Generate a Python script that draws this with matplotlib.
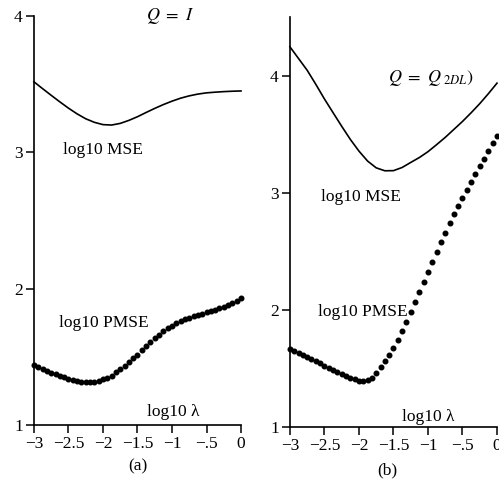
import numpy as np
from matplotlib import pyplot as plt

# log10 lambda grids
x_mse = np.arange(-3, 0.001, 0.125)
x_pmse = np.arange(-3, 0.001, 0.0625)

# panel (a): Q = I
mse_a = [3.517, 3.467, 3.418, 3.370, 3.324, 3.282, 3.246, 3.220, 3.203,
         3.200, 3.212, 3.234, 3.261, 3.292, 3.322, 3.350, 3.375, 3.397,
         3.414, 3.427, 3.436, 3.441, 3.445, 3.448, 3.450]
pmse_a = [1.441, 1.426, 1.412, 1.399, 1.385, 1.372, 1.360, 1.349, 1.340,
          1.332, 1.325, 1.319, 1.315, 1.314, 1.315, 1.322, 1.334, 1.345,
          1.362, 1.386, 1.408, 1.432, 1.460, 1.488, 1.517, 1.548, 1.578,
          1.606, 1.635, 1.662, 1.686, 1.708, 1.728, 1.745, 1.760, 1.775,
          1.787, 1.797, 1.807, 1.817, 1.826, 1.835, 1.845, 1.856, 1.868,
          1.880, 1.894, 1.910, 1.928]

# panel (b): Q = Q_2DL
mse_b = [4.245, 4.145, 4.045, 3.925, 3.800, 3.683, 3.567, 3.455, 3.355,
         3.270, 3.212, 3.187, 3.188, 3.215, 3.258, 3.300, 3.350, 3.410,
         3.472, 3.540, 3.608, 3.682, 3.760, 3.845, 3.935]
pmse_b = [1.667, 1.650, 1.632, 1.614, 1.596, 1.578, 1.560, 1.542, 1.524,
          1.506, 1.489, 1.471, 1.454, 1.437, 1.421, 1.407, 1.396, 1.392,
          1.398, 1.418, 1.460, 1.512, 1.560, 1.614, 1.675, 1.745, 1.822,
          1.900, 1.985, 2.070, 2.155, 2.240, 2.325, 2.410, 2.495, 2.580,
          2.660, 2.740, 2.815, 2.885, 2.955, 3.025, 3.095, 3.160, 3.225,
          3.290, 3.355, 3.420, 3.485]

xticks = [-3, -2.5, -2, -1.5, -1, -0.5, 0]
xtick_labels = ['\u22123', '\u22122.5', '\u22122', '\u22121.5', '\u22121', '\u2212.5', '0']
yticks = [1, 2, 3, 4]

plt.rcParams['font.family'] = ['Liberation Serif', 'DejaVu Serif']
plt.rcParams['mathtext.fontset'] = 'stix'

fig = plt.figure(figsize=(4.99, 4.79), dpi=100)
ax_a = fig.add_axes([0.068, 0.1127, 0.415, 0.854])
ax_b = fig.add_axes([0.581, 0.1086, 0.415, 0.856])


def style_axis(ax, ytop):
    ax.set_xlim(-3, 0)
    ax.set_ylim(1, ytop)
    ax.spines['top'].set_visible(False)
    ax.spines['right'].set_visible(False)
    ax.spines['left'].set_linewidth(1.2)
    ax.spines['bottom'].set_linewidth(1.2)
    ax.set_xticks(xticks)
    ax.set_xticklabels(xtick_labels)
    ax.set_yticks(yticks)
    ax.tick_params(direction='out', length=6, width=1.1, labelsize=12.5, pad=2)


style_axis(ax_a, 4)
ax_a.plot(x_mse, mse_a, color='black', lw=1.2, clip_on=False)
ax_a.plot(x_pmse, pmse_a, 'o', color='black', ms=3.3, clip_on=False)
ax_a.text(-1.03, 4.0, r'$Q\ =\ I$', fontsize=13, ha='center', va='center')
ax_a.text(-2.58, 2.985, 'log10 MSE', fontsize=12.5)
ax_a.text(-2.64, 1.72, 'log10 PMSE', fontsize=12.5)
ax_a.text(-1.36, 1.066, 'log10 \u03bb', fontsize=12.5)
ax_a.text(0.5, -0.1, '(a)', transform=ax_a.transAxes, fontsize=12.5, ha='center', va='center')

style_axis(ax_b, 4.5)
ax_b.plot(x_mse, mse_b, color='black', lw=1.2, clip_on=False)
ax_b.plot(x_pmse, pmse_b, 'o', color='black', ms=3.3, clip_on=False)
ax_b.text(-1.58, 3.975, r'$Q\ =\ Q_{\ 2DL})$', fontsize=13, va='center')
ax_b.text(-2.55, 2.93, 'log10 MSE', fontsize=12.5)
ax_b.text(-2.59, 1.946, 'log10 PMSE', fontsize=12.5)
ax_b.text(-1.38, 1.05, 'log10 \u03bb', fontsize=12.5)
ax_b.text(0.47, -0.105, '(b)', transform=ax_b.transAxes, fontsize=12.5, ha='center', va='center')

plt.savefig('out.png', dpi=100)
